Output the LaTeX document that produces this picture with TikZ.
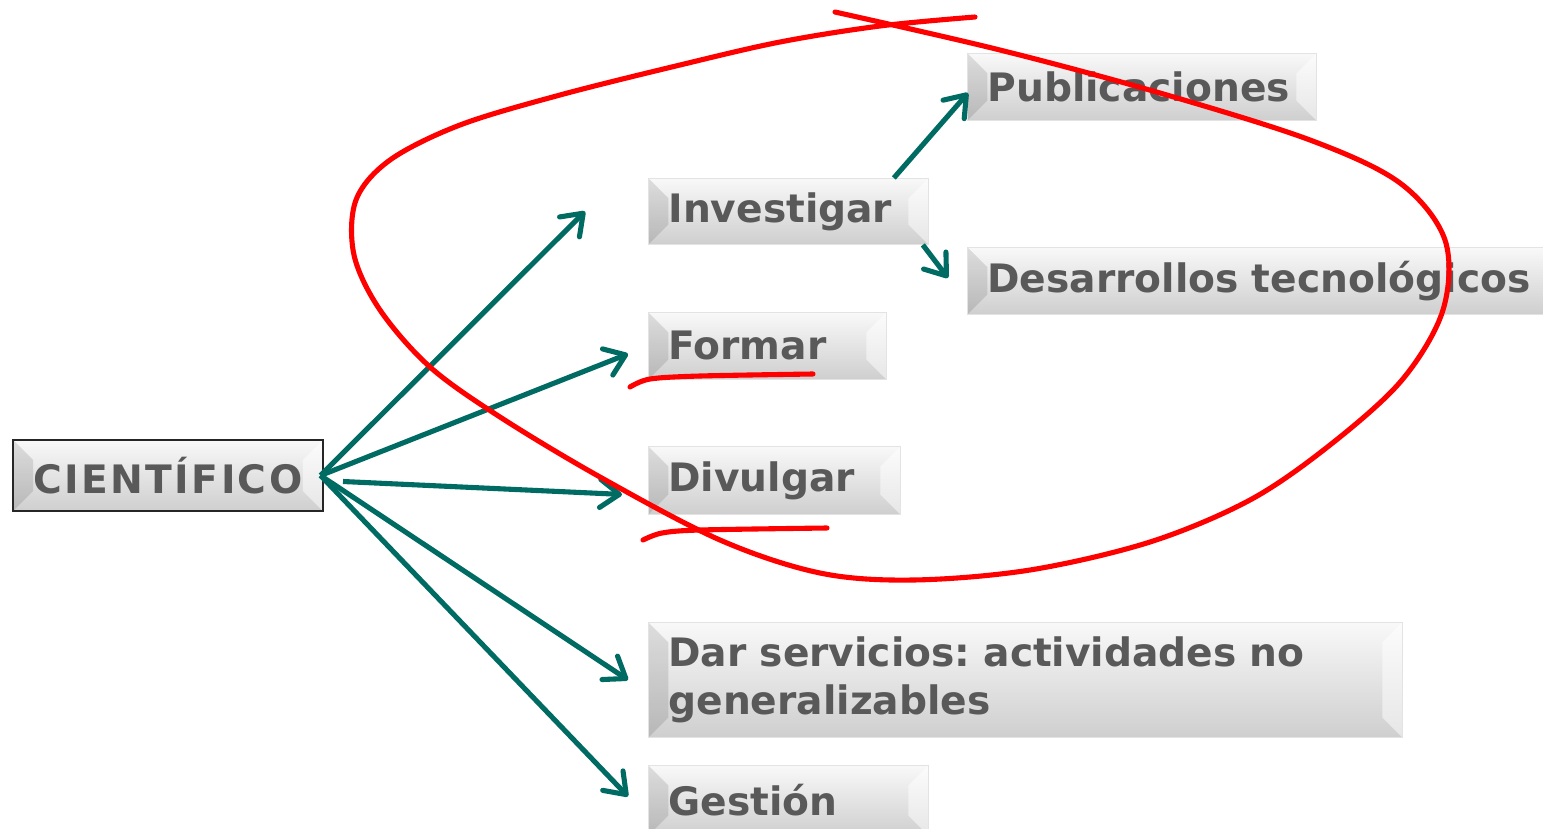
\documentclass[tikz,border=0pt]{standalone}
\usepackage{fontspec}
\setmainfont{DejaVu Sans}
\usetikzlibrary{arrows.meta}
\definecolor{boxtext}{RGB}{89,89,89}
\definecolor{arrowteal}{RGB}{0,107,99}
\definecolor{markred}{RGB}{255,0,0}
\frenchspacing

\begin{document}
\begin{tikzpicture}[x=0.02cm,y=-0.02cm]
			\tikzset{
			  BoxStyle/.style = { draw=gray!22, line width=0.5pt,
			                      top color=gray!5, bottom color=gray!38,
			                      text=boxtext, font=\fontsize{22.3}{27}\selectfont\bfseries,
			                      inner xsep=0.4cm, inner ysep=0pt, align=left,
			                      anchor=north west,
			                      path picture={
			                        \fill[black, opacity=0.11] (path picture bounding box.north west)
			                          -- ([shift={(0.4cm,-0.4cm)}]path picture bounding box.north west)
			                          -- ([shift={(0.4cm,0.4cm)}]path picture bounding box.south west)
			                          -- (path picture bounding box.south west) -- cycle;
			                        \fill[white, opacity=0.5] (path picture bounding box.north east)
			                          -- ([shift={(-0.4cm,-0.4cm)}]path picture bounding box.north east)
			                          -- ([shift={(-0.4cm,0.4cm)}]path picture bounding box.south east)
			                          -- (path picture bounding box.south east) -- cycle;
			                      } },
			  RootStyle/.style = { BoxStyle, draw=black!85, line width=1.2pt,
			                       align=center, anchor=center,
			                       font=\fontsize{22.3}{27}\selectfont\bfseries\addfontfeature{LetterSpace=6} },
			  EdgeStyle/.style = { draw=arrowteal, line width=2.9pt,
			                       -{Straight Barb[length=11pt,width=16pt,round]} },
			  MarkStyle/.style = { draw=markred, line width=2.9pt, line cap=round, line join=round }
			}
			\useasboundingbox (0,0) rectangle (1543,829);
			\node[RootStyle, minimum width=6.2cm, minimum height=1.42cm] (cientifico) at (168,475.5) {CIENTÍFICO};
			\node[BoxStyle, text width=4.8cm, minimum height=1.32cm] (investigar) at (648,178) {Investigar};
			\node[BoxStyle, text width=6.18cm, minimum height=1.34cm] (publicaciones) at (967,53) {Publicaciones};
			\node[BoxStyle, text width=11.8cm, minimum height=1.34cm] (desarrollos) at (967,247) {Desarrollos tecnológicos};
			\node[BoxStyle, text width=3.96cm, minimum height=1.34cm] (formar) at (648,312) {Formar};
			\node[BoxStyle, text width=4.24cm, minimum height=1.36cm] (divulgar) at (648,446) {Divulgar};
			\node[BoxStyle, text width=14.28cm, minimum height=2.3cm] (servicios) at (648,622) {Dar servicios: actividades no\\generalizables};
			\node[BoxStyle, text width=4.8cm, minimum height=1.4cm] (gestion) at (648,765) {Gestión};
			% arrows
			\draw[EdgeStyle] ([xshift=-2]cientifico.east) -- ([shift={(-63,0)}]investigar.west);
			\draw[EdgeStyle] ([xshift=-2]cientifico.east) -- ([shift={(-20,8)}]formar.west);
			\draw[EdgeStyle] ([shift={(19,6)}]cientifico.east) -- ([shift={(-26,14)}]divulgar.west);
			\draw[EdgeStyle] ([xshift=-2]cientifico.east) -- ([shift={(-20,0)}]servicios.west);
			\draw[EdgeStyle] ([xshift=-2]cientifico.east) -- ([shift={(-20,-4)}]gestion.west);
			\draw[EdgeStyle] ([shift={(-35,0)}]investigar.north east) -- ([shift={(1,6)}]publicaciones.west);
			\draw[EdgeStyle] ([shift={(-6,0)}]investigar.south east) -- ([shift={(-19,-3)}]desarrollos.west);
			% red marks
			\draw[MarkStyle] plot[smooth, tension=0.55] coordinates {(835,12) (1000,50) (1160,93) (1310,140)
			  (1400,183) (1445,240) (1443,310) (1402,380) (1330,445) (1250,500) (1150,542) (1030,570)
			  (913,580) (820,573) (720,540) (600,477) (500,417) (430,367) (380,310) (354,255)
			  (356,200) (390,160) (460,125) (560,95) (680,65) (780,42) (880,26) (975,17)};
			\draw[MarkStyle] plot[smooth] coordinates {(630,387) (650,379) (700,376) (813,374)};
			\draw[MarkStyle] plot[smooth] coordinates {(643,540) (662,533) (700,530) (827,528)};
\end{tikzpicture}
\end{document}
